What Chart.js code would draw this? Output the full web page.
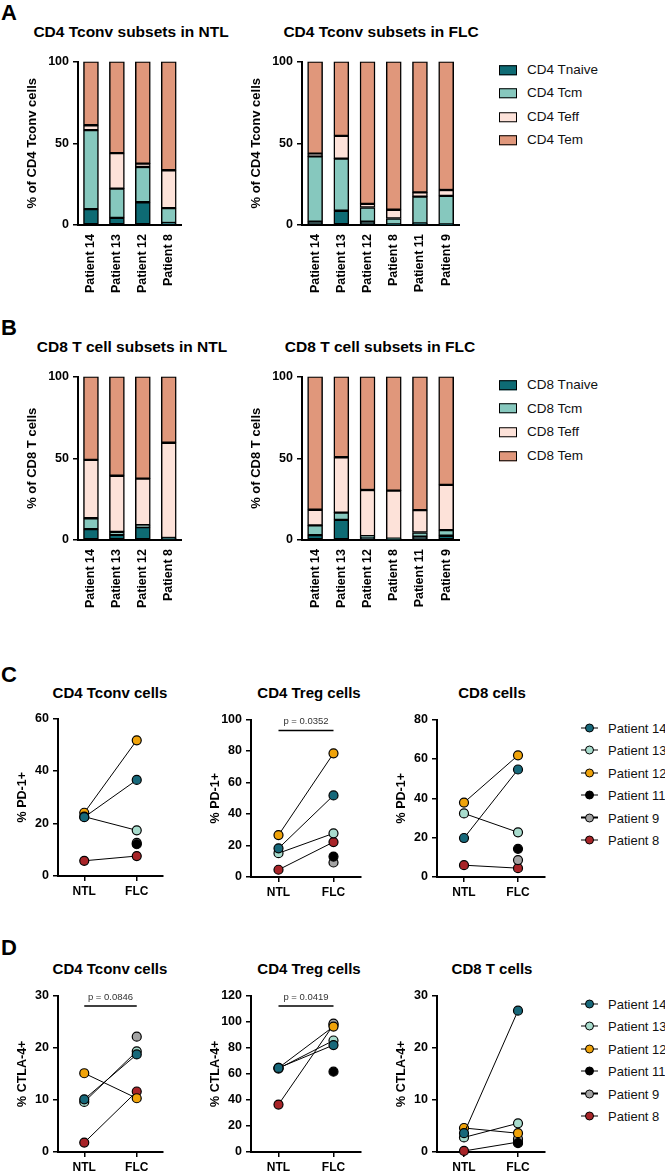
<!DOCTYPE html>
<html>
<head>
<meta charset="utf-8">
<script src="https://cdn.jsdelivr.net/npm/chart.js@4.4.0/dist/chart.umd.min.js"></script>
<style>
body { margin:0; background:#fff; width:665px; height:1173px; position:relative; overflow:hidden; font-family:'Liberation Sans', Arial, sans-serif; }
.box { position:absolute; }
.ttl { position:absolute; white-space:nowrap; transform:translate(-50%,-50%); font-weight:bold; line-height:1; color:#000; }
.letter { position:absolute; font-weight:bold; font-size:22px; line-height:1; color:#000; }
.row { position:absolute; white-space:nowrap; display:flex; align-items:center; transform:translateY(-50%); color:#111; line-height:1; }
.sw { display:inline-block; flex-shrink:0; width:16px; height:8px; border:1.5px solid #000; margin-right:10px; }
.mk { display:inline-block; flex-shrink:0; position:relative; width:17px; height:10px; margin-right:10px; }
.mk .ln { position:absolute; left:0; width:17px; top:4.4px; height:1.2px; background:#000; }
.mk .dot { position:absolute; left:4px; top:0.5px; width:7px; height:7px; border-radius:50%; border:1.2px solid #000; }
</style>
</head>
<body>
<div class="letter" style="left:1px;top:2px">A</div>
<div class="letter" style="left:1px;top:317px">B</div>
<div class="letter" style="left:1px;top:664px">C</div>
<div class="letter" style="left:1px;top:937px">D</div>

<div class="ttl" style="left:131px;top:32px;font-size:15.5px">CD4 Tconv subsets in NTL</div>
<div class="ttl" style="left:381px;top:32px;font-size:15.5px">CD4 Tconv subsets in FLC</div>
<div class="ttl" style="left:132px;top:347px;font-size:15.5px">CD8 T cell subsets in NTL</div>
<div class="ttl" style="left:380px;top:347px;font-size:15.5px">CD8 T cell subsets in FLC</div>
<div class="ttl" style="left:110px;top:692px;font-size:15px">CD4 Tconv cells</div>
<div class="ttl" style="left:309px;top:692px;font-size:15px">CD4 Treg cells</div>
<div class="ttl" style="left:492px;top:692px;font-size:15px">CD8 cells</div>
<div class="ttl" style="left:110px;top:968px;font-size:15px">CD4 Tconv cells</div>
<div class="ttl" style="left:309px;top:968px;font-size:15px">CD4 Treg cells</div>
<div class="ttl" style="left:492px;top:968px;font-size:15px">CD8 T cells</div>

<script>
// Données

// Panels A/B : patients et sous-populations (% des cellules)
const patientsNTL = ['Patient 14', 'Patient 13', 'Patient 12', 'Patient 8'];
const patientsFLC = ['Patient 14', 'Patient 13', 'Patient 12', 'Patient 8', 'Patient 11', 'Patient 9'];
const cd4Subsets = ['CD4 Tnaive', 'CD4 Tcm', 'CD4 Teff', 'CD4 Tem'];
const cd8Subsets = ['CD8 Tnaive', 'CD8 Tcm', 'CD8 Teff', 'CD8 Tem'];
const subsetColors = ['#0e6b74', '#86c8be', '#fde2d9', '#e0977b'];

const cd4NtlNaive = [9.7, 4.4, 13.9, 1.2];
const cd4NtlTcm   = [48.3, 17.8, 21.6, 9.1];
const cd4NtlTeff  = [3.0, 21.8, 2.0, 23.2];
const cd4NtlTem   = [39.0, 56.0, 62.5, 66.5];

const cd4FlcNaive = [2.0, 8.7, 2.0, 0.4, 1.0, 0.4];
const cd4FlcTcm   = [40.0, 31.9, 8.7, 3.6, 16.4, 17.4];
const cd4FlcTeff  = [1.6, 13.9, 2.2, 5.3, 2.6, 3.6];
const cd4FlcTem   = [56.4, 45.5, 87.1, 90.7, 80.0, 78.6];

const cd8NtlNaive = [6.7, 3.2, 7.9, 1.0];
const cd8NtlTcm   = [6.6, 1.8, 1.2, 0.2];
const cd8NtlTeff  = [35.7, 34.3, 28.4, 58.3];
const cd8NtlTem   = [51.0, 60.7, 62.5, 40.5];

const cd8FlcNaive = [3.0, 12.3, 2.0, 0.6, 2.0, 2.6];
const cd8FlcTcm   = [5.9, 4.4, 0.4, 0.2, 2.6, 3.4];
const cd8FlcTeff  = [9.6, 33.9, 28.2, 29.4, 13.7, 27.7];
const cd8FlcTem   = [81.5, 49.4, 69.4, 69.8, 81.7, 66.3];

// Panels C/D : valeurs appariées NTL / FLC
const tissues = ['NTL', 'FLC'];
const patients = ['Patient 14', 'Patient 13', 'Patient 12', 'Patient 11', 'Patient 9', 'Patient 8'];
const patientColors = ['#17687a', '#a8dccd', '#f0a30a', '#000000', '#a3a3a3', '#a82428'];

const pd1TconvNTL = [22.4, 22.6, 24.1, null, null, 5.8];
const pd1TconvFLC = [36.6, 17.4, 51.7, 12.1, 12.6, 7.6];
const pd1TregNTL  = [18.2, 15.1, 26.6, null, null, 4.6];
const pd1TregFLC  = [51.8, 27.7, 78.5, 13.0, 9.2, 22.2];
const pd1Cd8NTL   = [19.8, 32.3, 37.8, null, null, 6.0];
const pd1Cd8FLC   = [54.6, 22.7, 61.8, 14.3, 8.6, 4.5];

const ctla4TconvNTL = [10.1, 9.6, 15.1, null, null, 1.8];
const ctla4TconvFLC = [18.7, 19.3, 10.3, null, 22.1, 11.6];
const ctla4TregNTL  = [64.5, 64.0, 64.5, null, null, 36.4];
const ctla4TregFLC  = [82.0, 85.5, 96.2, 61.6, 98.5, 97.5];
const ctla4Cd8NTL   = [3.6, 2.8, 4.6, null, null, 0.2];
const ctla4Cd8FLC   = [27.1, 5.5, 3.6, 1.7, 2.5, 1.9];

// Tests statistiques affichés
const pTregPD1 = 'p = 0.0352';
const pTconvCTLA4 = 'p = 0.0846';
const pTregCTLA4 = 'p = 0.0419';

const FONT = "'Liberation Sans', Arial, sans-serif";
Chart.defaults.font.family = FONT;
Chart.defaults.color = '#000';

// Canvas placé pour que la zone du graphique tombe sur "area"
function makeCanvas(area, W, H, padTop, padRight) {
    const width = Math.round(W + (area.r - area.l) + padRight);
    const height = Math.round(padTop + (area.b - area.t) + H);
    const div = document.createElement('div');
    div.className = 'box';
    div.style.left = (area.l - W) + 'px';
    div.style.top = (area.t - padTop) + 'px';
    const cv = document.createElement('canvas');
    cv.width = width;
    cv.height = height;
    cv.style.width = width + 'px';
    cv.style.height = height + 'px';
    div.appendChild(cv);
    document.body.appendChild(div);
    return cv;
}

function yAxis(max, step, title, W, titleSize) {
    return {
        min: 0, max: max,
        ticks: { stepSize: step, padding: 4, font: { size: 12.5, weight: 'bold' } },
        grid: { drawOnChartArea: false, tickLength: 5, color: '#000', lineWidth: 1.5 },
        border: { color: '#000', width: 2 },
        title: { display: true, text: title, font: { size: titleSize, weight: 'bold' }, padding: 0 },
        afterFit: s => { s.width = W; }
    };
}

function barChart(area, labels, segs, names, yTitle) {
    const W = 53, H = 78;
    const cv = makeCanvas(area, W, H, 10, 10);
    new Chart(cv, {
        type: 'bar',
        data: {
            labels: labels,
            datasets: segs.map((d, i) => ({
                label: names[i], data: d,
                backgroundColor: subsetColors[i], borderColor: '#000',
                borderWidth: 1.5, borderSkipped: false, barThickness: 15
            }))
        },
        options: {
            responsive: false, animation: false,
            layout: { padding: { top: 10, right: 10, left: 0, bottom: 0 }, autoPadding: false },
            plugins: { legend: { display: false }, tooltip: { enabled: false } },
            scales: {
                x: {
                    stacked: true,
                    grid: { drawOnChartArea: false, drawTicks: false },
                    border: { color: '#000', width: 2 },
                    ticks: { minRotation: 90, maxRotation: 90, autoSkip: false, padding: 9, font: { size: 12.5, weight: 'bold' } },
                    afterFit: s => { s.height = H; }
                },
                y: Object.assign(yAxis(100, 50, yTitle, W, 13), { stacked: true })
            }
        }
    });
}

// Trait + valeur p au-dessus des deux groupes
const bracketPlugin = {
    id: 'bracket',
    afterDatasetsDraw(chart, args, opts) {
        if (!opts.text) return;
        const x = chart.scales.x, y = chart.scales.y;
        const x1 = x.getPixelForValue(0), x2 = x.getPixelForValue(1);
        const yy = y.getPixelForValue(opts.value);
        const ctx = chart.ctx;
        ctx.save();
        ctx.strokeStyle = '#000';
        ctx.lineWidth = 1.5;
        ctx.beginPath();
        ctx.moveTo(x1, yy);
        ctx.lineTo(x2, yy);
        ctx.stroke();
        ctx.fillStyle = '#333';
        ctx.font = '9.5px ' + FONT;
        ctx.textAlign = 'center';
        ctx.textBaseline = 'bottom';
        ctx.fillText(opts.text, (x1 + x2) / 2, yy - 4);
        ctx.restore();
    }
};

function pairChart(area, ntl, flc, max, step, yTitle, bracket) {
    const W = 43, H = 30;
    const cv = makeCanvas(area, W, H, 10, 8);
    new Chart(cv, {
        type: 'line',
        data: {
            labels: tissues,
            datasets: patients.map((p, i) => ({
                label: p, data: [ntl[i], flc[i]],
                borderColor: '#000', borderWidth: 1,
                pointBackgroundColor: patientColors[i], pointBorderColor: '#000',
                pointBorderWidth: 1.2, pointRadius: 4.5,
                clip: false, spanGaps: false, fill: false
            }))
        },
        options: {
            responsive: false, animation: false,
            layout: { padding: { top: 10, right: 8, left: 0, bottom: 0 }, autoPadding: false },
            plugins: {
                legend: { display: false }, tooltip: { enabled: false },
                bracket: bracket || {}
            },
            scales: {
                x: {
                    offset: true,
                    grid: { drawOnChartArea: false, tickLength: 5, color: '#000', lineWidth: 1.5 },
                    border: { color: '#000', width: 2 },
                    ticks: { padding: 3, font: { size: 12, weight: 'bold' } },
                    afterFit: s => { s.height = H; }
                },
                y: yAxis(max, step, yTitle, W, 12.5)
            }
        },
        plugins: [bracketPlugin]
    });
}

function boxLegend(left, top, gap, names) {
    names.forEach((n, i) => {
        const row = document.createElement('div');
        row.className = 'row';
        row.style.left = left + 'px';
        row.style.top = (top + i * gap) + 'px';
        row.style.fontSize = '13.5px';
        row.innerHTML = '<span class="sw" style="background:' + subsetColors[i] + '"></span>' + n;
        document.body.appendChild(row);
    });
}

function dotLegend(left, top, gap) {
    patients.forEach((n, i) => {
        const row = document.createElement('div');
        row.className = 'row';
        row.style.left = left + 'px';
        row.style.top = (top + i * gap) + 'px';
        row.style.fontSize = '13px';
        row.innerHTML = '<span class="mk"><span class="ln"></span><span class="dot" style="background:' + patientColors[i] + '"></span></span>' + n;
        document.body.appendChild(row);
    });
}

document.addEventListener('DOMContentLoaded', function() {
    // A
    barChart({ l: 78, r: 184, t: 60, b: 225 }, patientsNTL,
        [cd4NtlNaive, cd4NtlTcm, cd4NtlTeff, cd4NtlTem], cd4Subsets, '% of CD4 Tconv cells');
    barChart({ l: 302, r: 461, t: 60, b: 225 }, patientsFLC,
        [cd4FlcNaive, cd4FlcTcm, cd4FlcTeff, cd4FlcTem], cd4Subsets, '% of CD4 Tconv cells');
    boxLegend(499, 70, 23.4, cd4Subsets);

    // B
    barChart({ l: 78, r: 184, t: 375, b: 540 }, patientsNTL,
        [cd8NtlNaive, cd8NtlTcm, cd8NtlTeff, cd8NtlTem], cd8Subsets, '% of CD8 T cells');
    barChart({ l: 302, r: 461, t: 375, b: 540 }, patientsFLC,
        [cd8FlcNaive, cd8FlcTcm, cd8FlcTeff, cd8FlcTem], cd8Subsets, '% of CD8 T cells');
    boxLegend(499, 385, 23.6, cd8Subsets);

    // C
    pairChart({ l: 58, r: 163, t: 717, b: 876 }, pd1TconvNTL, pd1TconvFLC, 60, 20, '% PD-1+');
    pairChart({ l: 251, r: 361, t: 718, b: 877 }, pd1TregNTL, pd1TregFLC, 100, 20, '% PD-1+', { value: 93, text: pTregPD1 });
    pairChart({ l: 437, r: 545, t: 718, b: 877 }, pd1Cd8NTL, pd1Cd8FLC, 80, 20, '% PD-1+');
    dotLegend(581, 728, 22.4);

    // D
    pairChart({ l: 58, r: 163, t: 994, b: 1152 }, ctla4TconvNTL, ctla4TconvFLC, 30, 10, '% CTLA-4+', { value: 28, text: pTconvCTLA4 });
    pairChart({ l: 251, r: 361, t: 994, b: 1152 }, ctla4TregNTL, ctla4TregFLC, 120, 20, '% CTLA-4+', { value: 112, text: pTregCTLA4 });
    pairChart({ l: 437, r: 545, t: 994, b: 1152 }, ctla4Cd8NTL, ctla4Cd8FLC, 30, 10, '% CTLA-4+');
    dotLegend(581, 1004, 22.4);
});
</script>
</body>
</html>
